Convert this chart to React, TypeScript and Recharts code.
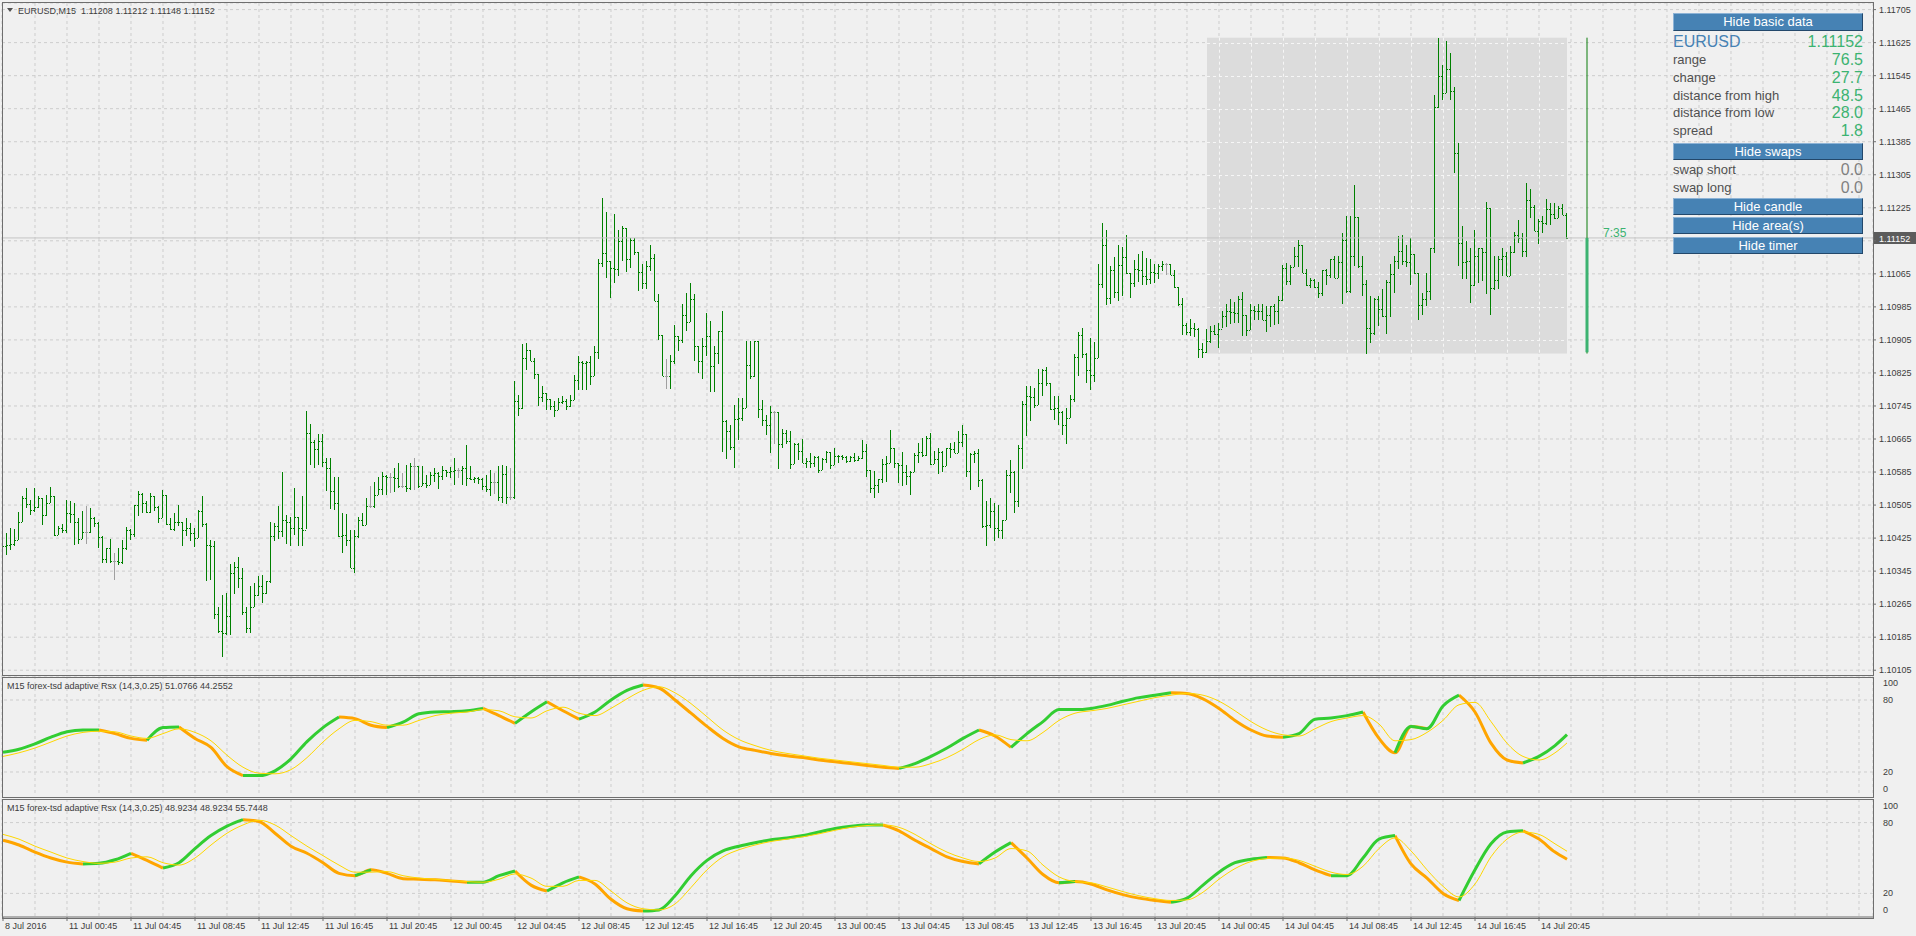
import React from "react";
import {
  ComposedChart,
  Bar,
  Line,
  XAxis,
  YAxis,
  CartesianGrid,
  ReferenceLine,
  ReferenceArea,
  ReferenceDot,
} from "recharts";

// EURUSD M15, prices in points above 1.10000 (1152 = 1.11152). open = previous close
const HIGH = [
  421, 437, 449, 447, 489, 526, 546, 518, 546, 527,
  522, 530, 549, 487, 455, 459, 518, 514, 510, 473,
  491, 503, 499, 477, 465, 430, 401, 423, 390, 401,
  421, 453, 448, 506, 538, 534, 514, 534, 526, 502,
  542, 530, 473, 485, 504, 465, 473, 461, 449, 492,
  527, 462, 421, 417, 259, 287, 291, 363, 368, 380,
  352, 259, 308, 316, 332, 336, 322, 465, 461, 502,
  586, 480, 477, 546, 477, 526, 732, 702, 663, 678,
  676, 619, 619, 574, 574, 485, 483, 445, 445, 477,
  485, 522, 552, 562, 574, 586, 578, 582, 595, 607,
  582, 603, 607, 619, 600, 599, 578, 586, 595, 586,
  599, 591, 596, 619, 595, 599, 650, 599, 574, 574,
  570, 578, 590, 582, 599, 603, 599, 595, 805, 772,
  894, 898, 879, 860, 823, 794, 775, 763, 758, 764,
  768, 762, 772, 821, 865, 853, 853, 865, 890, 1101,
  1249, 1215, 1096, 1211, 1172, 1182, 1176, 1152, 1152, 1117,
  1088, 1096, 1134, 1112, 1015, 915, 859, 869, 940, 914,
  993, 1019, 1043, 1015, 890, 910, 970, 952, 890, 926,
  976, 710, 700, 748, 764, 764, 903, 903, 903, 903,
  760, 724, 746, 732, 696, 689, 688, 684, 655, 655,
  665, 619, 631, 625, 623, 619, 637, 631, 643, 627,
  627, 625, 625, 631, 623, 662, 654, 591, 588, 567,
  617, 623, 688, 643, 607, 633, 603, 587, 630, 655,
  668, 672, 680, 635, 643, 635, 643, 655, 657, 684,
  700, 676, 631, 635, 641, 567, 514, 522, 510, 506,
  470, 591, 615, 587, 651, 756, 794, 793, 789, 835,
  835, 840, 801, 770, 770, 732, 740, 772, 872, 924,
  934, 874, 910, 899, 1089, 1187, 1172, 1084, 1106, 1134,
  1130, 1158, 1067, 1098, 1112, 1120, 1104, 1100, 1090, 1088,
  1095, 1092, 1088, 1074, 1033, 1007, 946, 956, 945, 934,
  898, 932, 938, 942, 946, 974, 993, 1003, 996, 1011,
  1021, 965, 991, 988, 991, 991, 988, 988, 993, 1011,
  1087, 1092, 1087, 1130, 1148, 1136, 1077, 1055, 1053, 1045,
  1075, 1077, 1101, 1109, 1108, 1163, 1206, 1206, 1281, 1203,
  1109, 1051, 1012, 1007, 1011, 1029, 1049, 1090, 1108, 1156,
  1158, 1136, 1152, 1112, 1067, 1019, 1067, 1128, 1497, 1637,
  1572, 1630, 1601, 1518, 1382, 1182, 1144, 1128, 1171, 1128,
  1128, 1239, 1225, 1109, 1108, 1128, 1117, 1132, 1166, 1195,
  1164, 1284, 1271, 1231, 1197, 1205, 1247, 1237, 1237, 1229,
  1233, 1212,
];
const LOW = [
  372, 384, 396, 405, 433, 477, 497, 481, 489, 497,
  457, 481, 510, 431, 433, 438, 437, 461, 409, 409,
  437, 410, 449, 453, 401, 364, 364, 364, 324, 360,
  363, 397, 421, 429, 477, 485, 485, 485, 489, 461,
  473, 457, 443, 441, 453, 408, 429, 417, 402, 424,
  453, 322, 324, 227, 195, 138, 190, 190, 291, 304,
  239, 195, 195, 259, 283, 269, 291, 318, 417, 421,
  429, 409, 407, 433, 407, 405, 445, 603, 595, 603,
  595, 538, 495, 493, 429, 388, 405, 352, 340, 425,
  453, 457, 498, 498, 530, 530, 530, 534, 538, 546,
  546, 538, 542, 542, 546, 550, 546, 554, 560, 546,
  565, 574, 570, 554, 570, 554, 550, 566, 560, 558,
  542, 538, 526, 530, 514, 510, 506, 518, 520, 720,
  736, 833, 853, 809, 746, 756, 736, 736, 720, 736,
  748, 736, 744, 760, 783, 783, 783, 794, 817, 859,
  1083, 1055, 1007, 1045, 1061, 1098, 1069, 1079, 1112, 1023,
  1027, 1027, 1071, 999, 903, 817, 786, 786, 845, 877,
  898, 926, 948, 853, 826, 810, 865, 779, 779, 845,
  635, 615, 640, 595, 663, 708, 740, 811, 817, 716,
  696, 675, 631, 651, 591, 643, 655, 592, 603, 615,
  607, 595, 595, 599, 583, 591, 607, 591, 603, 607,
  615, 609, 611, 609, 611, 615, 575, 536, 522, 534,
  558, 560, 607, 595, 558, 550, 554, 530, 584, 607,
  623, 623, 603, 604, 579, 583, 599, 619, 631, 631,
  647, 571, 542, 607, 550, 449, 405, 449, 417, 425,
  425, 470, 534, 486, 502, 591, 672, 708, 740, 748,
  770, 793, 736, 712, 700, 673, 654, 716, 756, 817,
  861, 801, 785, 801, 861, 1029, 991, 991, 1007, 999,
  1011, 1063, 1007, 1033, 1045, 1037, 1039, 1039, 1043, 1051,
  1071, 1063, 1061, 1031, 988, 918, 916, 914, 910, 861,
  861, 874, 898, 918, 885, 932, 938, 942, 946, 946,
  914, 915, 928, 954, 953, 953, 924, 938, 942, 942,
  1001, 1039, 1039, 1082, 1082, 1067, 1037, 1031, 1031, 1007,
  1011, 1039, 1055, 1055, 1055, 991, 1019, 1019, 1084, 1080,
  1011, 872, 898, 918, 938, 962, 918, 962, 1019, 1075,
  1085, 1082, 1039, 1063, 952, 966, 986, 1003, 1114, 1467,
  1488, 1504, 1488, 1310, 1085, 1053, 1053, 995, 1035, 1043,
  1047, 1015, 966, 1027, 1027, 1059, 1058, 1059, 1116, 1140,
  1106, 1104, 1201, 1168, 1136, 1164, 1184, 1184, 1198, 1201,
  1206, 1148,
];
const CLOSE = [
  405, 409, 410, 420, 463, 522, 508, 493, 501, 522,
  480, 511, 528, 433, 450, 445, 485, 483, 463, 424,
  439, 439, 473, 461, 427, 374, 400, 370, 370, 368,
  400, 445, 435, 504, 532, 510, 487, 526, 500, 473,
  530, 460, 447, 465, 463, 445, 449, 437, 426, 490,
  460, 409, 405, 241, 200, 195, 237, 340, 356, 328,
  247, 207, 259, 287, 308, 291, 320, 431, 455, 441,
  470, 465, 449, 477, 449, 445, 680, 658, 641, 659,
  610, 595, 540, 511, 429, 433, 421, 352, 430, 469,
  457, 502, 502, 530, 544, 576, 574, 574, 570, 550,
  550, 546, 600, 600, 550, 558, 554, 578, 582, 576,
  591, 586, 588, 591, 591, 595, 570, 568, 570, 568,
  550, 545, 562, 562, 524, 581, 524, 524, 758, 740,
  861, 880, 853, 823, 767, 776, 762, 744, 736, 754,
  756, 744, 760, 809, 851, 849, 851, 817, 875, 1092,
  1116, 1096, 1080, 1077, 1144, 1176, 1101, 1148, 1117, 1070,
  1043, 1085, 1104, 999, 916, 818, 818, 855, 914, 906,
  966, 948, 1005, 891, 853, 891, 914, 843, 873, 926,
  708, 685, 645, 713, 716, 740, 845, 817, 903, 738,
  712, 700, 730, 730, 653, 680, 661, 605, 653, 635,
  608, 611, 607, 621, 591, 617, 633, 603, 625, 623,
  621, 611, 621, 615, 619, 637, 589, 546, 554, 567,
  604, 607, 643, 607, 603, 584, 576, 584, 627, 633,
  627, 668, 604, 617, 633, 599, 643, 641, 631, 657,
  676, 588, 629, 631, 565, 455, 457, 490, 449, 445,
  470, 579, 584, 514, 643, 750, 770, 767, 748, 801,
  833, 801, 738, 740, 731, 700, 716, 762, 864, 916,
  871, 831, 821, 861, 1041, 1136, 1007, 1075, 1021, 1086,
  1106, 1067, 1043, 1077, 1074, 1061, 1053, 1069, 1067, 1085,
  1088, 1088, 1063, 1033, 991, 942, 924, 934, 932, 882,
  875, 902, 926, 920, 932, 962, 976, 972, 970, 1004,
  965, 928, 977, 976, 974, 953, 966, 986, 974, 1001,
  1079, 1047, 1082, 1109, 1136, 1067, 1037, 1051, 1033, 1019,
  1074, 1063, 1101, 1055, 1093, 1146, 1023, 1108, 1203, 1084,
  1041, 934, 922, 1004, 980, 962, 1045, 1065, 1096, 1121,
  1096, 1093, 1112, 1066, 990, 1003, 1023, 1128, 1470, 1544,
  1504, 1560, 1508, 1357, 1140, 1093, 1096, 1039, 1109, 1128,
  1117, 1225, 1031, 1051, 1100, 1108, 1059, 1117, 1160, 1152,
  1121, 1245, 1227, 1168, 1193, 1187, 1223, 1209, 1201, 1225,
  1208, 1152,
];
const FIRST_OPEN = 398;
const DAY_START = 301; // first bar of 14 Jul
const SPREAD = 18;
const CANDLE_X = 396;
const TIMER_X = 400;
const TIMER_TEXT = "7:35";

const PRICE_TICKS = [
  105, 185, 265, 345, 425, 505, 585, 665, 745, 825, 905,
  985, 1065, 1145, 1225, 1305, 1385, 1465, 1545, 1625, 1705,
];
const TIME_TICKS = [
  0, 16, 32, 48, 64, 80, 96, 112, 128, 144, 160, 176, 192,
  208, 224, 240, 256, 272, 288, 304, 320, 336, 352, 368, 384,
];
const TIME_LABELS = [
  "8 Jul 2016",
  "11 Jul 00:45", "11 Jul 04:45", "11 Jul 08:45", "11 Jul 12:45", "11 Jul 16:45", "11 Jul 20:45",
  "12 Jul 00:45", "12 Jul 04:45", "12 Jul 08:45", "12 Jul 12:45", "12 Jul 16:45", "12 Jul 20:45",
  "13 Jul 00:45", "13 Jul 04:45", "13 Jul 08:45", "13 Jul 12:45", "13 Jul 16:45", "13 Jul 20:45",
  "14 Jul 00:45", "14 Jul 04:45", "14 Jul 08:45", "14 Jul 12:45", "14 Jul 16:45", "14 Jul 20:45",
];

// adaptive RSX, one value every 4 bars (last one on the last bar)
const RSX1 = [
  36.4, 39, 43.5, 49, 53.5, 55, 55, 52, 48, 46.5,
  57, 57.5, 48, 40.5, 24.4, 17, 17, 21, 31, 45.3,
  57, 65.8, 64.5, 59, 57, 61.5, 68.5, 70, 70.3, 71,
  73, 67, 60.5, 70, 78.5, 71, 64, 70, 80, 88,
  92.5, 90, 80, 69, 58, 48, 41, 38, 35.5, 33.5,
  32, 30, 28.5, 27, 25.5, 24, 23, 27, 33, 40,
  48, 55, 50, 40.5, 52, 62, 72, 72, 73, 75.5,
  79, 82, 84, 86, 85.5, 81, 73, 63, 55, 50,
  49, 52, 64, 65, 67, 70, 48, 36, 58, 56,
  75, 84, 70, 44, 30, 27.5, 33, 42, 51.0766,
];
const SIG1 = [
  33, 36, 40, 45, 50, 53, 54, 53.5, 50, 48,
  52, 56, 53, 46, 34, 24, 19, 18.5, 22, 32,
  45, 56, 63, 62, 59, 59, 63, 67, 69, 70,
  72, 71, 66, 65, 71, 74, 69, 67, 73, 81,
  88, 91, 86, 77, 66, 55, 47, 42, 38, 35.5,
  33.5, 31.5, 30, 28.5, 27, 25.5, 24, 24, 27, 32,
  39, 47, 51, 47, 46, 53, 63, 69, 71, 73,
  76, 79, 82, 84, 85.5, 84, 79, 71, 62, 55,
  51, 50, 56, 62, 65, 67, 60, 46, 47, 53,
  63, 76, 78, 62, 44, 33, 30, 36, 44.2552,
];
const RSX2 = [
  65, 61, 55, 50, 46.5, 45, 45.5, 48.5, 54, 48,
  41.5, 46, 58, 69, 77, 82.5, 81, 71, 60, 54,
  46, 37, 35, 40, 37, 32.5, 32, 31.5, 30.5, 29.5,
  29.5, 35, 39, 27, 22, 29, 34, 28, 15, 7,
  5, 6, 18, 35, 48, 56, 60, 63, 65.5, 67,
  69, 72, 75, 77, 78, 78, 73, 65, 58, 51,
  47, 45, 55, 63, 50, 36, 29, 30, 28, 23,
  19, 16, 14, 12.5, 16, 27, 38, 46, 49, 50.5,
  50, 46, 40, 35, 35, 50, 66, 69, 45, 33,
  20, 14, 40, 62, 72, 73, 66, 55, 48.9234,
];
const SIG2 = [
  70, 66, 60, 55, 50, 47, 45.5, 46.5, 50, 51,
  46, 44, 50, 61, 71, 78, 82, 78, 69, 60,
  52, 44, 38, 38, 38.5, 35, 33, 32, 31, 30,
  29.5, 32, 36.5, 33, 26, 26, 31, 31, 22, 12,
  7, 6, 11, 25, 40, 51, 57, 61, 64, 66,
  68, 70.5, 73.5, 76, 77.5, 78, 76, 70, 62, 55,
  50, 47, 50, 58, 56, 44, 34, 30, 29, 25.5,
  21.5, 18, 15.5, 14, 14.5, 21, 32, 41, 47, 49.5,
  50, 48, 43, 38, 36, 43, 58, 67, 56, 40,
  26, 17, 28, 51, 66, 72, 70, 62, 55.7448,
];

const W = 1916;
const AXIS_W = 43;
const X_DOMAIN: [number, number] = [-0.25, 467.5];
const GRID_X = Array.from({ length: 59 }, (_, k) => k * 8);
const FRAME = "#6e6e6e";
const GRID = "#cdcdcd";
const TEXT = "#3c3c3c";
const FONT = "'Liberation Sans', Arial, sans-serif";

const LAST = CLOSE.length - 1;
const fmtPrice = (p: number) => (1.1 + p / 1e5).toFixed(5);

const bars = CLOSE.map((c, i) => {
  const o = i === 0 ? FIRST_OPEN : CLOSE[i - 1];
  const h = Math.max(HIGH[i], o, c);
  const l = Math.min(LOW[i], o, c);
  return { i, o, h, l, c, range: [l, h] };
});

const dayHigh = Math.max(...HIGH.slice(DAY_START));
const dayLow = Math.min(...LOW.slice(DAY_START));
const dayOpen = CLOSE[DAY_START - 1];
const lastClose = CLOSE[LAST];

const indRows = (rsx: number[], sig: number[]) =>
  rsx.map((v, j) => {
    const prev = j > 0 ? rsx[j - 1] : v;
    const next = j < rsx.length - 1 ? rsx[j + 1] : v;
    const upIn = j > 0 && v >= prev;
    const dnIn = j > 0 && v < prev;
    const upOut = j < rsx.length - 1 && next >= v;
    const dnOut = j < rsx.length - 1 && next < v;
    return {
      i: Math.min(j * 4, LAST),
      s: sig[j],
      up: upIn || upOut ? v : null,
      dn: dnIn || dnOut ? v : null,
    };
  });

function OhlcShape(props: any) {
  const { x, y, width, height, payload } = props;
  if (x == null || !payload) return null;
  const cx = Math.floor(x + width / 2);
  const span = payload.h - payload.l || 1;
  const yAt = (v: number) => Math.round(y + ((payload.h - v) / span) * height);
  const color = payload.o === payload.c ? "#a0a0a0" : "#008000";
  return (
    <g fill={color}>
      <rect x={cx} y={Math.round(y)} width={1} height={Math.max(1, Math.round(height))} />
      <rect x={cx - 1} y={yAt(payload.o)} width={1} height={1} />
      <rect x={cx + 1} y={yAt(payload.c)} width={1} height={1} />
    </g>
  );
}

function DayArea(props: any) {
  const { x, y, width, height } = props;
  if (x == null) return null;
  const span = LAST - DAY_START;
  const vx = GRID_X.filter((g) => g > DAY_START && g < LAST).map(
    (g) => Math.round(x + ((g - DAY_START) / span) * width) + 0.5
  );
  const hy = PRICE_TICKS.filter((t) => t > dayLow && t < dayHigh).map(
    (t) => Math.round(y + ((dayHigh - t) / (dayHigh - dayLow)) * height) + 0.5
  );
  return (
    <g>
      <rect x={x} y={y} width={width} height={height} fill="#dcdcdc" />
      {vx.map((px) => (
        <line key={"v" + px} x1={px} x2={px} y1={y} y2={y + height} stroke="#f6f6f6" strokeDasharray="3 3" />
      ))}
      {hy.map((py) => (
        <line key={"h" + py} x1={x} x2={x + width} y1={py} y2={py} stroke="#f6f6f6" strokeDasharray="3 3" />
      ))}
    </g>
  );
}

function PriceTag(props: any) {
  const vb = props.viewBox;
  if (!vb) return null;
  const left = vb.x + vb.width + 1;
  return (
    <g>
      <rect x={left} y={Math.round(vb.y) - 6} width={42} height={12} fill="#5c5c5c" />
      <text x={left + 5} y={Math.round(vb.y) + 3.5} fill="#ffffff" fontSize={9} fontFamily={FONT}>
        {fmtPrice(lastClose)}
      </text>
    </g>
  );
}

function PriceTick(props: any) {
  const { x, y, payload } = props;
  // the current price tag covers the neighbouring level label
  if (Math.abs(payload.value - lastClose) < 15) return null;
  return (
    <text x={x} y={y + 3} fill={TEXT} fontSize={9} fontFamily={FONT}>
      {fmtPrice(payload.value)}
    </text>
  );
}

function TimerText(props: any) {
  const { cx, cy } = props;
  if (cx == null) return null;
  return (
    <text x={cx} y={cy - 1} fill="#3cb371" fontSize={12} fontFamily={FONT}>
      {TIMER_TEXT}
    </text>
  );
}

function LevelTick(props: any) {
  const { x, y, payload } = props;
  const v = payload.value;
  const dy = v === 100 ? 7 : v === 0 ? -7 : 0;
  return (
    <text x={x} y={y + dy + 3} fill={TEXT} fontSize={9} fontFamily={FONT}>
      {v}
    </text>
  );
}

function TimeTick(props: any) {
  const { x, y, payload, index } = props;
  return (
    <text x={x + 2} y={y + 6} fill={TEXT} fontSize={9} fontFamily={FONT}>
      {TIME_LABELS[index] ?? String(payload.value)}
    </text>
  );
}

function IndicatorPanel({
  rsx,
  sig,
  height,
  margin,
  withTime,
}: {
  rsx: number[];
  sig: number[];
  height: number;
  margin: { top: number; right: number; bottom: number; left: number };
  withTime?: boolean;
}) {
  const rows = indRows(rsx, sig);
  return (
    <ComposedChart width={W} height={height} data={rows} margin={margin}>
      <CartesianGrid xAxisId="g" horizontal={false} stroke={GRID} strokeDasharray="3 3" />
      {withTime && (
        <XAxis
          xAxisId="t"
          dataKey="i"
          type="number"
          domain={X_DOMAIN}
          ticks={TIME_TICKS}
          interval={0}
          height={18}
          allowDataOverflow
          axisLine={{ stroke: FRAME }}
          tickLine={{ stroke: FRAME }}
          tickSize={4}
          tickMargin={2}
          tick={<TimeTick />}
        />
      )}
      <XAxis xAxisId="g" dataKey="i" type="number" domain={X_DOMAIN} ticks={GRID_X} hide height={0} allowDataOverflow />
      <YAxis
        orientation="right"
        width={AXIS_W}
        domain={[0, 100]}
        ticks={[0, 20, 80, 100]}
        interval={0}
        axisLine={false}
        tickLine={false}
        tickMargin={4}
        tick={<LevelTick />}
      />
      <ReferenceLine xAxisId="g" y={80} stroke={GRID} strokeDasharray="3 3" />
      <ReferenceLine xAxisId="g" y={20} stroke={GRID} strokeDasharray="3 3" />
      <Line xAxisId="g" dataKey="dn" type="monotone" stroke="#ffa500" strokeWidth={3} dot={false} connectNulls={false} isAnimationActive={false} />
      <Line xAxisId="g" dataKey="up" type="monotone" stroke="#32cd32" strokeWidth={3} dot={false} connectNulls={false} isAnimationActive={false} />
      <Line xAxisId="g" dataKey="s" type="monotone" stroke="#ffd700" strokeWidth={1} dot={false} isAnimationActive={false} />
    </ComposedChart>
  );
}

const abs = (left: number, top: number, extra: React.CSSProperties = {}): React.CSSProperties => ({
  position: "absolute",
  left,
  top,
  ...extra,
});

function Button({ label, top, height }: { label: string; top: number; height: number }) {
  return (
    <div
      style={abs(1673, top, {
        width: 190,
        height,
        boxSizing: "border-box",
        background: "#4682b4",
        borderTop: "1px solid #8db3d6",
        borderLeft: "1px solid #8db3d6",
        borderRight: "1px solid #23486b",
        borderBottom: "1px solid #23486b",
        color: "#ffffff",
        fontSize: 13,
        lineHeight: `${height - 2}px`,
        textAlign: "center",
      })}
    >
      {label}
    </div>
  );
}

function Row({
  label,
  value,
  cy,
  labelSize = 13,
  valueSize = 16,
  labelColor = "#505050",
  valueColor = "#3cb371",
}: {
  label: string;
  value: string;
  cy: number;
  labelSize?: number;
  valueSize?: number;
  labelColor?: string;
  valueColor?: string;
}) {
  return (
    <>
      <div style={abs(1673, cy - 9, { fontSize: labelSize, lineHeight: "18px", color: labelColor })}>{label}</div>
      <div style={abs(1673, cy - 9, { width: 190, textAlign: "right", fontSize: valueSize, lineHeight: "18px", color: valueColor })}>
        {value}
      </div>
    </>
  );
}

export default function App() {
  const pts = (v: number) => (v / 10).toFixed(1);
  const title1 = `M15 forex-tsd adaptive Rsx (14,3,0.25) ${RSX1[RSX1.length - 1].toFixed(4)} ${SIG1[SIG1.length - 1].toFixed(4)}`;
  const r2 = RSX2[RSX2.length - 1].toFixed(4);
  const title2 = `M15 forex-tsd adaptive Rsx (14,3,0.25) ${r2} ${r2} ${SIG2[SIG2.length - 1].toFixed(4)}`;
  const last = bars[LAST];
  return (
    <div
      style={{
        position: "absolute",
        left: 0,
        top: 0,
        width: W,
        height: 936,
        background: "#f0f0f0",
        overflow: "hidden",
        fontFamily: FONT,
      }}
    >
      <div style={abs(0, 0)}>
        <ComposedChart width={W} height={678} data={bars} margin={{ top: 3, right: 0, bottom: 2, left: 2 }}>
          <CartesianGrid stroke={GRID} strokeDasharray="3 3" />
          <XAxis dataKey="i" type="number" domain={X_DOMAIN} ticks={GRID_X} hide height={0} allowDataOverflow />
          <YAxis
            orientation="right"
            width={AXIS_W}
            domain={[91, 1721]}
            ticks={PRICE_TICKS}
            interval={0}
            allowDataOverflow
            axisLine={false}
            tickLine={{ stroke: FRAME }}
            tickSize={3}
            tickMargin={3}
            tick={<PriceTick />}
          />
          <ReferenceArea x1={DAY_START} x2={LAST} y1={dayLow} y2={dayHigh} shape={<DayArea />} />
          <ReferenceLine y={lastClose} stroke="#c4c4c4" label={<PriceTag />} />
          <Bar dataKey="range" barSize={4} shape={<OhlcShape />} isAnimationActive={false} />
          <ReferenceLine
            segment={[{ x: CANDLE_X, y: dayLow }, { x: CANDLE_X, y: dayHigh }]}
            stroke="#0a7d0a"
            strokeWidth={1}
          />
          <ReferenceLine
            segment={[{ x: CANDLE_X, y: dayOpen }, { x: CANDLE_X, y: lastClose }]}
            stroke="#3cb371"
            strokeWidth={3}
          />
          <ReferenceDot x={TIMER_X} y={lastClose} r={1} shape={<TimerText />} />
        </ComposedChart>
      </div>
      <div style={abs(0, 676)}>
        <IndicatorPanel rsx={RSX1} sig={SIG1} height={121} margin={{ top: 0, right: 0, bottom: 1, left: 2 }} />
      </div>
      <div style={abs(0, 798)}>
        <IndicatorPanel rsx={RSX2} sig={SIG2} height={137} margin={{ top: 1, right: 0, bottom: 0, left: 2 }} withTime />
      </div>

      {/* panel frames */}
      <div style={abs(2, 2, { width: 1872, height: 674, boxSizing: "border-box", border: `1px solid ${FRAME}` })} />
      <div style={abs(2, 677, { width: 1872, height: 121, boxSizing: "border-box", border: `1px solid ${FRAME}` })} />
      <div style={abs(2, 799, { width: 1872, height: 120, boxSizing: "border-box", border: `1px solid ${FRAME}` })} />

      {/* titles */}
      <div style={abs(7, 8, { width: 0, height: 0, borderLeft: "3px solid transparent", borderRight: "3px solid transparent", borderTop: "4px solid #505050" })} />
      <div style={abs(18, 5, { fontSize: 9, lineHeight: "12px", color: TEXT, whiteSpace: "pre" })}>
        {`EURUSD,M15  ${fmtPrice(last.o)} ${fmtPrice(last.h)} ${fmtPrice(last.l)} ${fmtPrice(last.c)}`}
      </div>
      <div style={abs(7, 680, { fontSize: 9, lineHeight: "12px", color: TEXT, whiteSpace: "pre" })}>{title1}</div>
      <div style={abs(7, 802, { fontSize: 9, lineHeight: "12px", color: TEXT, whiteSpace: "pre" })}>{title2}</div>

      {/* info panel */}
      <Button label="Hide basic data" top={13} height={18} />
      <Row label="EURUSD" value={fmtPrice(lastClose)} cy={42} labelSize={16} labelColor="#4682b4" />
      <Row label="range" value={pts(dayHigh - dayLow)} cy={60} />
      <Row label="change" value={pts(lastClose - dayOpen)} cy={78} />
      <Row label="distance from high" value={pts(dayHigh - lastClose)} cy={96} />
      <Row label="distance from low" value={pts(lastClose - dayLow)} cy={113} />
      <Row label="spread" value={pts(SPREAD)} cy={131} />
      <Button label="Hide swaps" top={143} height={17} />
      <Row label="swap short" value="0.0" cy={170} valueColor="#808080" />
      <Row label="swap long" value="0.0" cy={188} valueColor="#808080" />
      <Button label="Hide candle" top={198} height={17} />
      <Button label="Hide area(s)" top={217} height={17} />
      <Button label="Hide timer" top={237} height={17} />
    </div>
  );
}
